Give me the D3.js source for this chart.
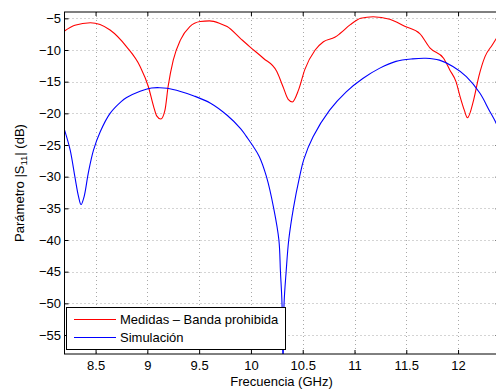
<!DOCTYPE html>
<html>
<head>
<meta charset="utf-8">
<script src="https://cdn.jsdelivr.net/npm/d3@7"></script>
<style>
  html, body { margin: 0; padding: 0; background: #fff; overflow: hidden; }
  svg { display: block; font-family: "Liberation Sans", Arial, Helvetica, sans-serif; }
</style>
</head>
<body>
<svg id="chart" width="496" height="391"></svg>
<script>
// Measured reflection coefficient (band-stop structure)
const medidasFreq = [8.2, 8.3, 8.45, 8.64, 8.80, 8.93, 9.01, 9.06, 9.09, 9.13, 9.17, 9.20, 9.25, 9.32, 9.41, 9.51, 9.60, 9.70, 9.77, 9.90, 9.99, 10.12, 10.25, 10.31, 10.36, 10.40, 10.46, 10.52, 10.62, 10.70, 10.81, 10.86, 10.96, 11.06, 11.18, 11.34, 11.49, 11.63, 11.73, 11.86, 11.92, 11.98, 12.02, 12.06, 12.09, 12.15, 12.20, 12.26, 12.33, 12.40];
const medidasDb = [-7.0, -6.1, -5.7, -6.85, -9.5, -12.6, -15.8, -18.9, -20.4, -20.9, -19.5, -15.8, -11.6, -8.4, -6.3, -5.5, -5.4, -5.8, -6.3, -8.2, -9.5, -11.3, -13.4, -15.8, -17.8, -18.2, -16.3, -13.1, -10.0, -8.7, -8.0, -7.4, -6.0, -5.0, -4.74, -5.15, -6.3, -7.4, -9.7, -11.3, -13.15, -15.0, -17.4, -19.5, -20.7, -17.9, -14.2, -11.05, -9.2, -7.4];

// Simulated reflection coefficient
const simFreq = [8.2, 8.255, 8.30, 8.335, 8.36, 8.39, 8.43, 8.48, 8.545, 8.64, 8.75, 8.80, 8.93, 9.04, 9.12, 9.19, 9.32, 9.45, 9.61, 9.77, 9.90, 9.954, 10.08, 10.15, 10.22, 10.27, 10.285, 10.30, 10.31, 10.32, 10.34, 10.365, 10.41, 10.47, 10.51, 10.60, 10.76, 10.92, 11.08, 11.24, 11.40, 11.56, 11.69, 11.82, 11.95, 12.08, 12.21, 12.30, 12.36, 12.40];
const simDb = [-22.6, -25.8, -30.0, -33.1, -34.4, -33.1, -29.4, -25.8, -22.9, -20.0, -18.1, -17.5, -16.5, -16.0, -15.95, -16.05, -16.55, -17.25, -18.4, -20.3, -22.4, -23.6, -26.8, -30.0, -35.0, -40.0, -45.0, -50.0, -60.0, -50.0, -45.0, -40.0, -35.0, -30.0, -27.3, -23.7, -19.5, -16.6, -14.5, -12.9, -11.8, -11.4, -11.3, -11.6, -12.6, -14.2, -16.8, -19.5, -21.3, -22.8];

const xTicks = [8.5, 9, 9.5, 10, 10.5, 11, 11.5, 12];
const yTicks = [-5, -10, -15, -20, -25, -30, -35, -40, -45, -50, -55];
const legendLabels = ["Medidas \u2013 Banda prohibida", "Simulaci\u00f3n"];
const seriesColors = ["#ff0000", "#0000ff"];

const svg = d3.select("#chart");
const plot = { left: 64.5, top: 12, right: 499.5, bottom: 354 };

const x = d3.scaleLinear().domain([8.2, 12.4]).range([plot.left, plot.right]);
const y = d3.scaleLinear().domain([-58, -4]).range([plot.bottom, plot.top]);

const fmtY = d => (d < 0 ? "\u2212" + Math.abs(d) : String(d));

svg.append("defs").append("clipPath").attr("id", "plotClip")
  .append("rect")
  .attr("x", plot.left).attr("y", plot.top)
  .attr("width", plot.right - plot.left).attr("height", plot.bottom - plot.top);

// dotted grid
const grid = svg.append("g").attr("stroke", "#a8a8a8").attr("stroke-width", 1).attr("stroke-dasharray", "1,3");
grid.selectAll("line.gx").data(xTicks).join("line").attr("class", "gx")
  .attr("x1", d => Math.round(x(d)) + 0.5).attr("x2", d => Math.round(x(d)) + 0.5)
  .attr("y1", plot.top).attr("y2", plot.bottom);
grid.selectAll("line.gy").data(yTicks).join("line").attr("class", "gy")
  .attr("y1", d => Math.round(y(d)) + 0.5).attr("y2", d => Math.round(y(d)) + 0.5)
  .attr("x1", plot.left).attr("x2", plot.right);

// curves
const medidas = medidasFreq.map((f, i) => [f, medidasDb[i]]);
const sim = simFreq.map((f, i) => [f, simDb[i]]);
const lineMed = d3.line().x(d => x(d[0])).y(d => y(d[1])).curve(d3.curveMonotoneX);
const lineSim = d3.line().x(d => x(d[0])).y(d => y(d[1])).curve(d3.curveCatmullRom.alpha(0.5));

const curves = svg.append("g").attr("clip-path", "url(#plotClip)").attr("fill", "none").attr("stroke-width", 1.1);
curves.append("path").attr("d", lineMed(medidas)).attr("stroke", seriesColors[0]);
curves.append("path").attr("d", lineSim(sim)).attr("stroke", seriesColors[1]);

// axes: inward ticks on all four sides
const tickLen = 4;
const xAxisBottom = d3.axisBottom(x).tickValues(xTicks).tickSizeInner(-tickLen).tickSizeOuter(0).tickPadding(6.5).tickFormat(d => String(d));
const xAxisTop = d3.axisTop(x).tickValues(xTicks).tickSizeInner(-tickLen).tickSizeOuter(0).tickFormat("");
const yAxisLeft = d3.axisLeft(y).tickValues(yTicks).tickSizeInner(-tickLen).tickSizeOuter(0).tickPadding(3.5).tickFormat(fmtY);
const yAxisRight = d3.axisRight(y).tickValues(yTicks).tickSizeInner(-tickLen).tickSizeOuter(0).tickFormat("");

function styleAxis(g) {
  g.select(".domain").remove();
  g.selectAll("line").attr("stroke", "#000");
  g.selectAll("text").attr("fill", "#000").attr("font-size", 13).attr("font-family", "Liberation Sans, Arial, sans-serif");
}
svg.append("g").attr("transform", `translate(0,${plot.bottom})`).call(xAxisBottom).call(styleAxis);
svg.append("g").attr("transform", `translate(0,${plot.top})`).call(xAxisTop).call(styleAxis);
svg.append("g").attr("transform", `translate(${plot.left},0)`).call(yAxisLeft).call(styleAxis);
svg.append("g").attr("transform", `translate(${plot.right},0)`).call(yAxisRight).call(styleAxis);

// box
svg.append("rect")
  .attr("x", plot.left).attr("y", plot.top)
  .attr("width", plot.right - plot.left).attr("height", plot.bottom - plot.top)
  .attr("fill", "none").attr("stroke", "#000").attr("stroke-width", 1);

// axis titles
svg.append("text")
  .attr("x", (plot.left + plot.right) / 2 - 0.5).attr("y", 385.5)
  .attr("text-anchor", "middle").attr("font-size", 13).attr("fill", "#000")
  .text("Frecuencia (GHz)");

const yTitle = svg.append("text")
  .attr("transform", `translate(23.5,${(plot.top + plot.bottom) / 2}) rotate(-90)`)
  .attr("text-anchor", "middle").attr("font-size", 13).attr("fill", "#000");
yTitle.append("tspan").text("Par\u00e1metro |S");
yTitle.append("tspan").attr("font-size", 9.5).attr("dy", 3).text("11");
yTitle.append("tspan").attr("dy", -3).text("| (dB)");

// legend
const legend = svg.append("g");
legend.append("rect")
  .attr("x", 66.5).attr("y", 307.5).attr("width", 219).attr("height", 42)
  .attr("fill", "#fff").attr("stroke", "#000").attr("stroke-width", 1);
const rowY = [319.5, 337.5];
legendLabels.forEach((label, i) => {
  legend.append("line")
    .attr("x1", 74).attr("x2", 116).attr("y1", rowY[i]).attr("y2", rowY[i])
    .attr("stroke", seriesColors[i]).attr("stroke-width", 1.1);
  legend.append("text")
    .attr("x", 120).attr("y", rowY[i] + 4.5)
    .attr("font-size", 13).attr("fill", "#000")
    .text(label);
});
</script>
</body>
</html>
